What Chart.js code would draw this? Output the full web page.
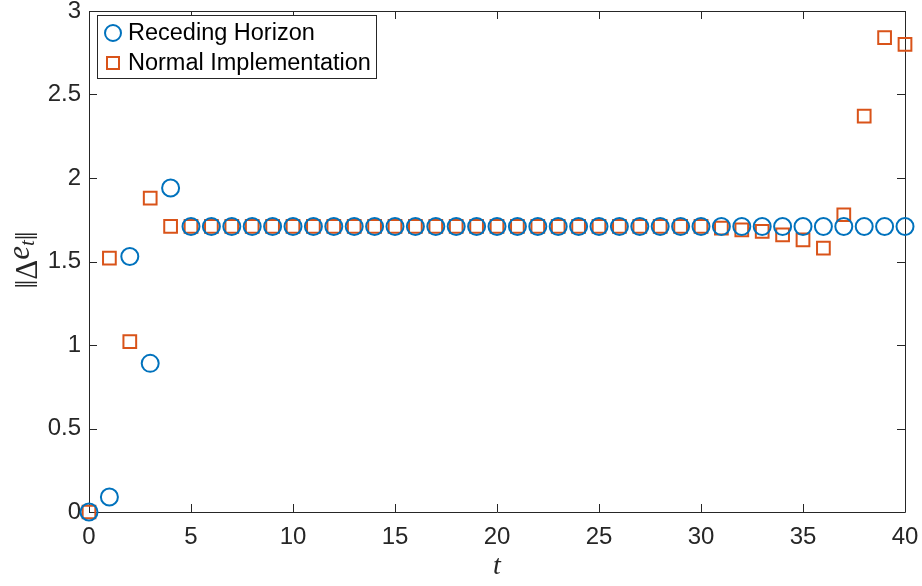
<!DOCTYPE html>
<html>
<head>
<meta charset="utf-8">
<script src="https://cdn.jsdelivr.net/npm/chart.js@4.4.1/dist/chart.umd.min.js"></script>
<style>
  html, body { margin: 0; padding: 0; background: #fff; }
  #wrap { width: 922px; height: 586px; }
</style>
</head>
<body>
<div id="wrap"><canvas id="errChart" width="922" height="586"></canvas></div>
<script>
// time steps 0..40
const steps = [0,1,2,3,4,5,6,7,8,9,10,11,12,13,14,15,16,17,18,19,20,
  21,22,23,24,25,26,27,28,29,30,31,32,33,34,35,36,37,38,39,40];

const recedingVals = [0, 0.09, 1.53, 0.89, 1.94,
  1.71, 1.71, 1.71, 1.71, 1.71, 1.71, 1.71, 1.71, 1.71, 1.71,
  1.71, 1.71, 1.71, 1.71, 1.71, 1.71, 1.71, 1.71, 1.71, 1.71,
  1.71, 1.71, 1.71, 1.71, 1.71, 1.71, 1.71, 1.71, 1.71, 1.71,
  1.71, 1.71, 1.71, 1.71, 1.71, 1.71];

const normalVals = [0, 1.52, 1.02, 1.88, 1.71,
  1.71, 1.71, 1.71, 1.71, 1.71, 1.71, 1.71, 1.71, 1.71, 1.71,
  1.71, 1.71, 1.71, 1.71, 1.71, 1.71, 1.71, 1.71, 1.71, 1.71,
  1.71, 1.71, 1.71, 1.71, 1.71, 1.71, 1.70, 1.69, 1.68, 1.66,
  1.63, 1.58, 1.78, 2.37, 2.84, 2.80];

const seriesNames = ["Receding Horizon", "Normal Implementation"];
const xTicks = [0, 5, 10, 15, 20, 25, 30, 35, 40];
const yTicks = [0, 0.5, 1, 1.5, 2, 2.5, 3];

const BLUE = "#0072BD";
const ORANGE = "#D95319";
const AXIS = "#262626";
const SANS = "'Liberation Sans', Arial, sans-serif";
const SERIF = "'Liberation Serif', serif";

function toPoints(ys) {
  return steps.map((t, i) => ({ x: t, y: ys[i] }));
}

// box around the axes with inward ticks on all four sides
const axesBox = {
  id: "axesBox",
  beforeDatasetsDraw(chart) {
    const { ctx, chartArea: a, scales } = chart;
    ctx.save();
    ctx.strokeStyle = AXIS;
    ctx.lineWidth = 1;
    ctx.beginPath();
    ctx.rect(a.left + 0.5, a.top + 0.5, a.right - a.left, a.bottom - a.top);
    const tl = 8;
    xTicks.forEach(v => {
      const px = Math.round(scales.x.getPixelForValue(v)) + 0.5;
      ctx.moveTo(px, a.bottom); ctx.lineTo(px, a.bottom - tl);
      ctx.moveTo(px, a.top); ctx.lineTo(px, a.top + tl);
    });
    yTicks.forEach(v => {
      const py = Math.round(scales.y.getPixelForValue(v)) + 0.5;
      ctx.moveTo(a.left, py); ctx.lineTo(a.left + tl, py);
      ctx.moveTo(a.right, py); ctx.lineTo(a.right - tl, py);
    });
    ctx.stroke();

    // axis titles
    ctx.fillStyle = AXIS;
    ctx.textBaseline = "alphabetic";
    ctx.font = "italic 28px " + SERIF;
    ctx.textAlign = "center";
    ctx.fillText("t", (a.left + a.right) / 2, 574);

    // ‖Δe_t‖ rotated
    ctx.translate(37, 260);
    ctx.rotate(-Math.PI / 2);
    const up = "31px " + SERIF;
    const it = "italic 31px " + SERIF;
    const sub = "italic 21px " + SERIF;
    const parts = [
      { s: "\u2016\u0394", f: up, dy: 0 },
      { s: "e", f: it, dy: -8 },
      { s: "t", f: sub, dy: -3 },
      { s: "\u2016", f: up, dy: 0 }
    ];
    let total = 0;
    parts.forEach(p => { ctx.font = p.f; p.w = ctx.measureText(p.s).width; total += p.w; });
    let x0 = -total / 2;
    ctx.textAlign = "left";
    parts.forEach(p => {
      ctx.font = p.f;
      ctx.fillText(p.s, x0, p.dy);
      x0 += p.w;
    });
    ctx.restore();
  }
};

// legend box in the upper-left corner
const cornerLegend = {
  id: "cornerLegend",
  afterDraw(chart) {
    const { ctx } = chart;
    const bx = 97, by = 15, bw = 279, bh = 63;
    ctx.save();
    ctx.fillStyle = "#fff";
    ctx.fillRect(bx, by, bw, bh);
    ctx.strokeStyle = AXIS;
    ctx.lineWidth = 1;
    ctx.strokeRect(bx + 0.5, by + 0.5, bw, bh);
    ctx.font = "23.5px " + SANS;
    ctx.textBaseline = "middle";
    ctx.textAlign = "left";
    const rows = [by + 18, by + 48];
    chart.data.datasets.forEach((ds, i) => {
      const y = rows[i];
      ctx.strokeStyle = ds.borderColor;
      ctx.lineWidth = 2;
      ctx.beginPath();
      if (ds.pointStyle === "circle") {
        ctx.arc(113, y, 8, 0, Math.PI * 2);
      } else {
        ctx.rect(107, y - 6, 12, 12);
      }
      ctx.stroke();
      ctx.fillStyle = "#000";
      ctx.fillText(ds.label, 128, y + 1);
    });
    ctx.restore();
  }
};

// keep the plot edges fixed; tick labels may overhang
function noOverhang(scale) {
  scale.paddingTop = 0;
  scale.paddingBottom = 0;
  scale.paddingLeft = 0;
  scale.paddingRight = 0;
}

new Chart("errChart", {
  type: "scatter",
  data: {
    datasets: [
      {
        label: seriesNames[0],
        data: toPoints(recedingVals),
        pointStyle: "circle",
        pointRadius: 8.5,
        pointHoverRadius: 8.5,
        borderColor: BLUE,
        backgroundColor: "rgba(0,0,0,0)",
        borderWidth: 2,
        clip: false
      },
      {
        label: seriesNames[1],
        data: toPoints(normalVals),
        pointStyle: "rect",
        pointRadius: 9,
        pointHoverRadius: 9,
        borderColor: ORANGE,
        backgroundColor: "rgba(0,0,0,0)",
        borderWidth: 2,
        clip: false
      }
    ]
  },
  options: {
    responsive: false,
    animation: false,
    events: [],
    layout: { padding: { left: 0, top: 9, right: 17, bottom: 0 } },
    plugins: { legend: { display: false }, tooltip: { enabled: false } },
    scales: {
      x: {
        type: "linear",
        min: 0, max: 40,
        afterBuildTicks(scale) { scale.ticks = xTicks.map(v => ({ value: v })); },
        afterFit(scale) { scale.height = 74; noOverhang(scale); },
        grid: { display: false, drawTicks: false },
        border: { display: false },
        ticks: {
          padding: 11,
          color: AXIS,
          font: { family: SANS, size: 24 },
          callback: v => String(v)
        }
      },
      y: {
        type: "linear",
        min: 0, max: 3,
        afterBuildTicks(scale) { scale.ticks = yTicks.map(v => ({ value: v })); },
        afterFit(scale) { scale.width = 89; noOverhang(scale); },
        grid: { display: false, drawTicks: false },
        border: { display: false },
        ticks: {
          padding: 8,
          color: AXIS,
          font: { family: SANS, size: 24 },
          callback: v => String(v)
        }
      }
    }
  },
  plugins: [axesBox, cornerLegend]
});
</script>
</body>
</html>
